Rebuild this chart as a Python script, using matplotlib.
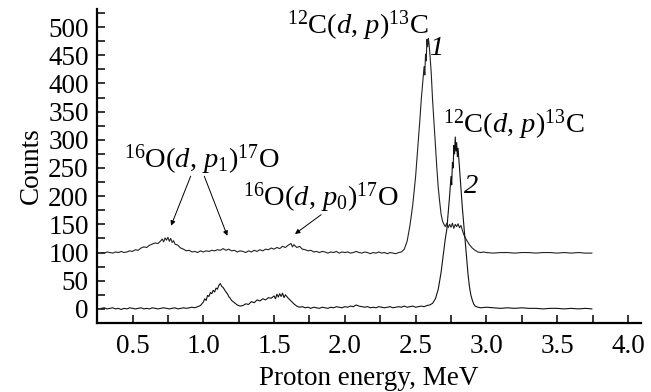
import numpy as np
import matplotlib
matplotlib.use("Agg")
import matplotlib.pyplot as plt
from matplotlib.ticker import MultipleLocator

plt.rcParams['font.family'] = ['Liberation Serif', 'DejaVu Serif']
plt.rcParams['mathtext.fontset'] = 'custom'
plt.rcParams['mathtext.rm'] = 'Liberation Serif'
plt.rcParams['mathtext.it'] = 'Liberation Serif:italic'

#---------------- spectrum 1 (offset by 100 counts)
e1 = [0.28, 0.30, 0.32, 0.34, 0.36, 0.38, 0.40, 0.42, 0.44, 0.46, 0.48, 0.50,
      0.52, 0.54, 0.56, 0.58, 0.60, 0.62, 0.64, 0.66, 0.68, 0.70, 0.71, 0.72,
      0.73, 0.74, 0.75, 0.76, 0.77, 0.78, 0.79, 0.80, 0.82, 0.84, 0.86, 0.88,
      0.90, 0.92, 0.94, 0.96, 0.98, 1.00, 1.02, 1.04, 1.06, 1.08, 1.10, 1.12,
      1.14, 1.16, 1.18, 1.20, 1.22, 1.24, 1.26, 1.28, 1.30, 1.32, 1.34, 1.36,
      1.38, 1.40, 1.42, 1.44, 1.46, 1.48, 1.50, 1.52, 1.54, 1.56, 1.58, 1.60,
      1.62, 1.63, 1.64, 1.66, 1.68, 1.70, 1.72, 1.74, 1.76, 1.78, 1.80, 1.82,
      1.84, 1.86, 1.88, 1.90, 1.92, 1.94, 1.96, 1.98, 2.00, 2.02, 2.04, 2.06,
      2.08, 2.10, 2.12, 2.14, 2.16, 2.18, 2.20, 2.22, 2.24, 2.26, 2.28, 2.30,
      2.32, 2.34, 2.36, 2.38, 2.40, 2.42, 2.44, 2.46, 2.48, 2.50, 2.52, 2.53,
      2.54, 2.55, 2.56, 2.565, 2.57, 2.575, 2.58, 2.585, 2.59, 2.595, 2.60, 2.61,
      2.62, 2.63, 2.64, 2.65, 2.66, 2.67, 2.68, 2.69, 2.70, 2.71, 2.72, 2.73,
      2.74, 2.75, 2.76, 2.77, 2.78, 2.79, 2.80, 2.81, 2.82, 2.83, 2.84, 2.86,
      2.88, 2.90, 2.92, 2.94, 2.96, 2.98, 3.00, 3.05, 3.10, 3.15, 3.20, 3.25,
      3.30, 3.35, 3.40, 3.45, 3.50, 3.55, 3.60, 3.65, 3.70, 3.745]
c1 = [100, 99, 101, 100, 99, 101, 100, 102, 100, 101, 103, 102,
      105, 104, 108, 110, 109, 113, 115, 117, 116, 121, 124, 119,
      126, 122, 127, 120, 125, 118, 121, 115, 113, 108, 106, 103,
      104, 101, 102, 100, 103, 101, 103, 102, 104, 103, 105, 104,
      107, 104, 106, 103, 104, 101, 103, 102, 100, 103, 101, 104,
      102, 105, 103, 106, 105, 108, 106, 109, 107, 111, 109, 113,
      116, 110, 114, 109, 111, 106, 105, 103, 104, 101, 102, 100,
      102, 101, 99, 101, 100, 102, 99, 101, 100, 101, 99, 100,
      102, 100, 99, 101, 100, 98, 100, 99, 101, 99, 100, 98,
      100, 99, 98, 100, 101, 106, 120, 148, 185, 235, 300, 335,
      372, 400, 430, 415, 452, 440, 478, 465, 480, 470, 455, 420,
      370, 330, 290, 250, 215, 190, 168, 156, 150, 146, 152, 144,
      150, 145, 152, 143, 150, 146, 151, 144, 148, 140, 132, 122,
      114, 108, 104, 101, 100, 101, 100, 99, 100, 100, 99, 100,
      100, 99, 100, 100, 99, 100, 99, 100, 99, 99]

#---------------- spectrum 2
e2 = [0.28, 0.30, 0.32, 0.34, 0.36, 0.38, 0.40, 0.42, 0.44, 0.46, 0.48, 0.50,
      0.52, 0.54, 0.56, 0.58, 0.60, 0.62, 0.64, 0.66, 0.68, 0.70, 0.72, 0.74,
      0.76, 0.78, 0.80, 0.82, 0.84, 0.86, 0.88, 0.90, 0.92, 0.94, 0.96, 0.98,
      1.00, 1.01, 1.02, 1.03, 1.04, 1.05, 1.06, 1.07, 1.08, 1.09, 1.10, 1.11,
      1.12, 1.13, 1.14, 1.15, 1.16, 1.17, 1.18, 1.19, 1.20, 1.22, 1.24, 1.26,
      1.28, 1.30, 1.32, 1.34, 1.36, 1.38, 1.40, 1.42, 1.44, 1.46, 1.48, 1.50,
      1.51, 1.52, 1.53, 1.54, 1.55, 1.56, 1.57, 1.58, 1.60, 1.62, 1.64, 1.66,
      1.68, 1.70, 1.72, 1.74, 1.76, 1.78, 1.80, 1.82, 1.84, 1.86, 1.88, 1.90,
      1.92, 1.94, 1.96, 1.98, 2.00, 2.02, 2.04, 2.06, 2.08, 2.10, 2.12, 2.14,
      2.16, 2.18, 2.20, 2.22, 2.24, 2.26, 2.28, 2.30, 2.32, 2.34, 2.36, 2.38,
      2.40, 2.42, 2.44, 2.46, 2.48, 2.50, 2.52, 2.54, 2.56, 2.58, 2.60, 2.62,
      2.64, 2.66, 2.68, 2.69, 2.70, 2.71, 2.72, 2.73, 2.74, 2.75, 2.755, 2.76,
      2.765, 2.77, 2.775, 2.78, 2.785, 2.79, 2.795, 2.80, 2.81, 2.82, 2.83, 2.84,
      2.85, 2.86, 2.87, 2.88, 2.89, 2.90, 2.91, 2.92, 2.94, 2.96, 3.00, 3.05,
      3.10, 3.15, 3.20, 3.25, 3.30, 3.35, 3.40, 3.45, 3.50, 3.55, 3.60, 3.65,
      3.70, 3.745]
c2 = [1, 2, 0, 1, 2, 0, 1, -1, 1, 0, 2, 1,
      0, 1, 2, 0, 1, 0, 2, 1, 0, 1, 2, 1,
      0, 1, 2, 0, 1, 2, 1, 2, 3, 2, 4, 6,
      12, 18, 15, 24, 22, 29, 27, 33, 30, 37, 35, 42,
      45, 40, 38, 34, 30, 27, 22, 19, 15, 11, 7, 5,
      6, 9, 8, 13, 11, 16, 14, 18, 16, 20, 19, 23,
      18, 26, 21, 27, 22, 28, 20, 25, 19, 14, 9, 5,
      3, 4, 2, 3, 1, 3, 2, 1, 3, 2, 1, 3,
      2, 4, 3, 2, 4, 3, 5, 4, 7, 5, 4, 3,
      4, 2, 3, 2, 4, 3, 2, 3, 4, 2, 3, 4,
      3, 5, 3, 4, 5, 3, 4, 5, 4, 6, 7, 10,
      18, 35, 65, 85, 105, 125, 140, 170, 200, 235, 220, 260,
      250, 290, 275, 305, 280, 295, 270, 285, 250, 215, 180, 150,
      120, 90, 62, 40, 25, 16, 9, 5, 3, 2, 3, 2,
      1, 2, 1, 2, 1, 1, 0, 1, 1, 0, 1, 0,
      1, 0]

x_ticks = [0.5, 1.0, 1.5, 2.0, 2.5, 3.0, 3.5, 4.0]
x_labels = ['0.5', '1.0', '1.5', '2.0', '2.5', '3.0', '3.5', '4.0']

#---------------
fig = plt.figure(figsize=(6.51, 3.92), dpi=100)
ax = fig.add_axes([0.149, 0.176, 0.836, 0.801])

ax.plot(e1, c1, color='#222222', lw=0.8)
ax.plot(e2, c2, color='#111111', lw=0.8)

ax.set_xlim(0.249, 4.094)
ax.set_ylim(-25, 532)
ax.spines['top'].set_visible(False)
ax.spines['right'].set_visible(False)
for s in ['left', 'bottom']:
    ax.spines[s].set_linewidth(1.6)

ax.xaxis.set_minor_locator(MultipleLocator(0.25))
ax.yaxis.set_minor_locator(MultipleLocator(25))
ax.set_xticks(x_ticks)
ax.set_xticklabels(x_labels)
ax.set_yticks(np.arange(0, 501, 50))
ax.tick_params(which='both', direction='in', length=6, width=1.1)
ax.tick_params(axis='x', which='major', labelsize=19.5, pad=8)
ax.tick_params(axis='y', which='major', labelsize=19.5, pad=6)

ax.set_xlabel('Proton energy, MeV', fontsize=19.5, labelpad=5)
ax.set_ylabel('Counts', fontsize=19.5, labelpad=3)

fs = 20.5
ax.text(2.59, 489, r'$^{12}$C($d$, $p$)$^{13}$C', fontsize=fs, ha='right', va='baseline')
ax.text(2.65, 462, '1', fontsize=fs, fontstyle='italic', ha='center', va='center')
ax.text(2.69, 312, r'$^{12}$C($d$, $p$)$^{13}$C', fontsize=fs, ha='left', va='baseline')
ax.text(2.89, 218, '2', fontsize=fs, fontstyle='italic', ha='center', va='center')
ax.text(0.44, 250, r'$^{16}$O($d$, $p_1$)$^{17}$O', fontsize=fs, ha='left', va='baseline')
ax.text(1.28, 184, r'$^{16}$O($d$, $p_0$)$^{17}$O', fontsize=fs, ha='left', va='baseline')

arrow = dict(arrowstyle='-|>', color='black', lw=0.7, mutation_scale=7)
ax.annotate('', xy=(0.765, 143), xytext=(0.918, 240), arrowprops=arrow)
ax.annotate('', xy=(1.177, 125), xytext=(1.0, 240), arrowprops=arrow)
ax.annotate('', xy=(1.632, 130), xytext=(1.848, 170), arrowprops=arrow)

fig.savefig('out.png', dpi=100)
